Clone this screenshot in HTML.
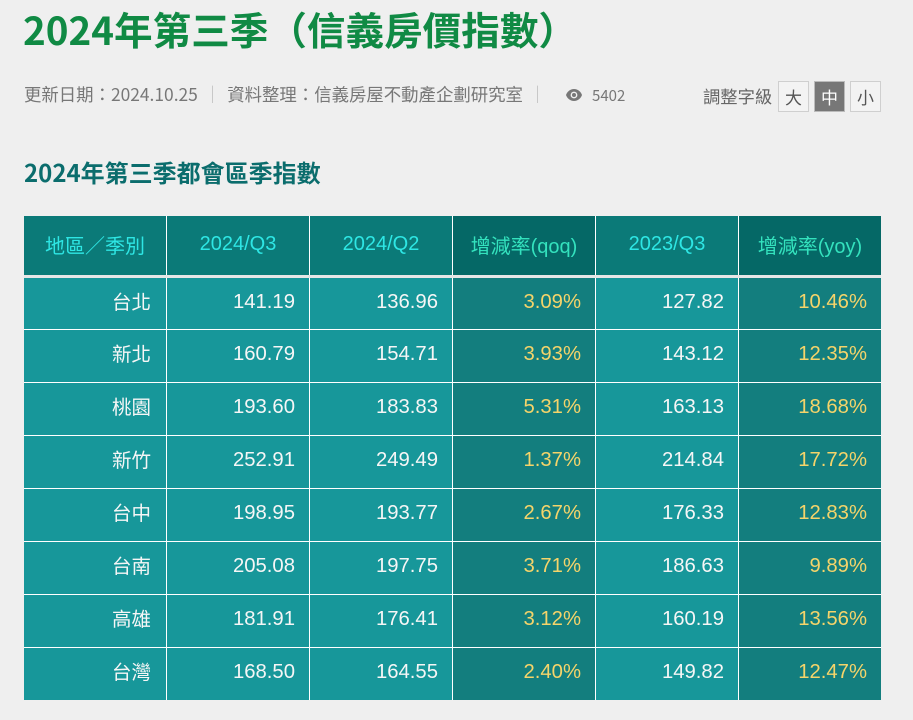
<!DOCTYPE html>
<html><head><meta charset="utf-8">
<style>
*{margin:0;padding:0;box-sizing:border-box}
html,body{width:913px;height:720px;background:#efefef;overflow:hidden}
body{position:relative;font-family:"Liberation Sans","Noto Sans CJK TC",sans-serif}
.cjk{font-family:"Noto Sans CJK TC","Liberation Sans",sans-serif}
#title{position:absolute;left:23px;top:3px;font-size:38.6px;font-weight:bold;color:#108a44;line-height:52px;white-space:nowrap;font-family:"Noto Sans CJK TC",sans-serif}
#meta{position:absolute;left:24px;top:82px;font-size:17.4px;color:#777;line-height:26px;white-space:nowrap;font-family:"Noto Sans CJK TC",sans-serif}
.sep{color:#bbb;margin:0 6px}
#eye{position:absolute;left:565px;top:88px}
#views{position:absolute;left:592px;top:84px;font-size:15px;color:#777;line-height:24px;font-family:"Noto Sans CJK TC",sans-serif}
#fs{position:absolute;left:703px;top:83px;font-size:17.3px;color:#666;line-height:26px;font-family:"Noto Sans CJK TC",sans-serif}
.btn{position:absolute;top:81px;width:31px;height:31px;border:1px solid #cfcfcf;background:#f3f3f3;color:#555;font-size:17px;line-height:29px;text-align:center;font-family:"Noto Sans CJK TC",sans-serif}
.btn.on{background:#777;color:#fff;border-color:#bbb}
#sub{position:absolute;left:24px;top:155px;font-size:24px;font-weight:bold;color:#0b6d6d;line-height:34px;white-space:nowrap;font-family:"Noto Sans CJK TC",sans-serif}
#tbl{position:absolute;left:24px;top:216px;width:857px;height:484px;background:#fff}
.c{position:absolute;display:flex;align-items:center;white-space:nowrap}
.h{justify-content:center;font-size:20px;color:#2ee6e4;background:#0b7a78;padding-bottom:2px}
.h.g{background:#056866;color:#34e2be}
.b{justify-content:flex-end;padding-right:14px;padding-bottom:3px;font-size:20.3px;color:#f6f6f6;background:#17979a}
.b.g{background:#137e7e;color:#f5d46a}
.b.n{padding-right:15px;padding-bottom:7px;font-family:"Noto Sans CJK TC",sans-serif;font-size:19.5px}
#gap{position:absolute;left:0;top:59px;width:857px;height:3px;background:#e6e6e6}
</style></head><body>
<div id="title">2024年第三季（信義房價指數）</div>
<div id="meta">更新日期：2024.10.25<span class="sep">｜</span>資料整理：信義房屋不動產企劃研究室<span class="sep">｜</span></div>
<svg id="eye" width="18" height="14" viewBox="0 0 18 14"><path d="M9 1C5 1 2 4 1 7c1 3 4 6 8 6s7-3 8-6c-1-3-4-6-8-6z" fill="#777"/><circle cx="9" cy="7" r="3.4" fill="#efefef"/><circle cx="9" cy="7" r="2" fill="#777"/></svg>
<div id="views">5402</div>
<div id="fs">調整字級</div>
<div class="btn" style="left:778px">大</div>
<div class="btn on" style="left:814px">中</div>
<div class="btn" style="left:850px">小</div>
<div id="sub">2024年第三季都會區季指數</div>
<div id="tbl">
<div id="gap"></div>
<div class="c h cjk" style="left:0;top:0;width:142px;height:59px">地區／季別</div>
<div class="c h" style="left:143px;top:0;width:142px;height:59px">2024/Q3</div>
<div class="c h" style="left:286px;top:0;width:142px;height:59px">2024/Q2</div>
<div class="c h g" style="left:429px;top:0;width:142px;height:59px">增減率(qoq)</div>
<div class="c h" style="left:572px;top:0;width:142px;height:59px">2023/Q3</div>
<div class="c h g" style="left:715px;top:0;width:142px;height:59px">增減率(yoy)</div>
</div>
<script>
(function(){
var d=[["台北","141.19","136.96","3.09%","127.82","10.46%"],
["新北","160.79","154.71","3.93%","143.12","12.35%"],
["桃園","193.60","183.83","5.31%","163.13","18.68%"],
["新竹","252.91","249.49","1.37%","214.84","17.72%"],
["台中","198.95","193.77","2.67%","176.33","12.83%"],
["台南","205.08","197.75","3.71%","186.63","9.89%"],
["高雄","181.91","176.41","3.12%","160.19","13.56%"],
["台灣","168.50","164.55","2.40%","149.82","12.47%"]];
var t=document.getElementById('tbl');var h='';
var lefts=[0,143,286,429,572,715];
for(var r=0;r<8;r++){
 var top=r==0?62:62+51+1+(r-1)*53;
 var ht=r==0?51:52;
 for(var c=0;c<6;c++){
  var cls='c b'+((c==3||c==5)?' g':'')+(c==0?' n':'');
  h+='<div class="'+cls+'" style="left:'+lefts[c]+'px;top:'+top+'px;width:142px;height:'+ht+'px">'+d[r][c]+'</div>';
 }
}
t.insertAdjacentHTML('beforeend',h);
})();
</script>
</body></html>
